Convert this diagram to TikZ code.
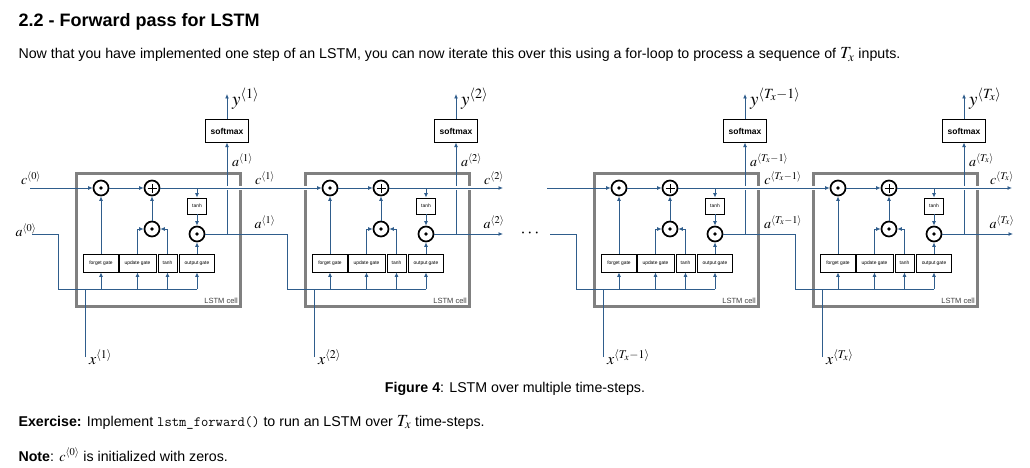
\documentclass[tikz,border=0pt]{standalone}
\usepackage{mathptmx}
\usepackage{fontspec}
\setmainfont{Liberation Sans}
\usepackage{xcolor}
\definecolor{lstmblue}{HTML}{2F5D8C}
\definecolor{cellgray}{HTML}{808080}
\usetikzlibrary{arrows.meta,positioning}

\begin{document}
\begin{tikzpicture}[x=1pt,y=-1pt,
  flow/.style={draw=lstmblue,line width=0.9pt},
  arr/.style={flow,-{Latex[length=4.5pt,width=4pt]}},
  cstate/.style={arr,preaction={draw=white,line width=3.5pt,-,shorten <=3pt,shorten >=3pt}},
  cellbox/.style={draw=cellgray,line width=3pt,minimum width=164pt,minimum height=133pt,inner sep=0pt},
  gate/.style={draw,line width=0.8pt,minimum height=18pt,inner sep=0pt,font=\fontsize{4.9}{5}\selectfont},
  op/.style={circle,draw,line width=1.7pt,minimum size=15pt,inner sep=0pt,fill=white},
  mult/.style={op,path picture={\fill[black] (path picture bounding box.center) circle (1.8pt);}},
  add/.style={op,path picture={\draw[black,line width=0.7pt] ([xshift=-4.5pt]path picture bounding box.center) -- ([xshift=4.5pt]path picture bounding box.center) ([yshift=-4.5pt]path picture bounding box.center) -- ([yshift=4.5pt]path picture bounding box.center);}},
  smax/.style={draw,line width=1pt,minimum width=43pt,minimum height=22pt,inner sep=0pt,font=\bfseries\fontsize{8.5}{10}\selectfont},
  var/.style={font=\fontsize{14}{14}\selectfont,inner sep=0pt},
  outvar/.style={font=\fontsize{19}{19}\selectfont,inner sep=0pt,anchor=west}]
\fill[white] (0,0) rectangle (1030,468);
\useasboundingbox (0,0) rectangle (1030,468);
% heading and intro
\node[anchor=base west,font=\bfseries\fontsize{18}{20}\selectfont] (title) at (15,27) {2.2 - Forward pass for LSTM};
\node[anchor=base west,font=\fontsize{14.2}{16}\selectfont] (intro) at (15,59) {Now that you have implemented one step of an LSTM, you can now iterate this over this using a for-loop to process a sequence of {\fontsize{17}{17}\selectfont$T_x$} inputs.};
% the four cells
\foreach \i/\ox/\t in {1/0/1,2/229/2,3/518/T_x-1,4/737/T_x}{
  \node[cellbox] (cell\i) at (\ox+158.5,239.5) {};
  \node[anchor=south east,inner sep=0pt,text=darkgray,font=\fontsize{7.5}{8}\selectfont] (tag\i) at (\ox+238,304) {LSTM cell};
  \node[mult] (fm\i) at (\ox+101,188) {};
  \node[add] (ad\i) at (\ox+152,188) {};
  \node[mult] (um\i) at (\ox+152,229) {};
  \node[mult] (om\i) at (\ox+197,234) {};
  \node[gate,minimum width=19pt,minimum height=16pt] (th\i) at (\ox+197,206) {tanh};
  \node[gate,minimum width=35pt] (fg\i) at (\ox+101,263) {forget gate};
  \node[gate,minimum width=37pt] (ug\i) at (\ox+137.5,263) {update gate};
  \node[gate,minimum width=19pt] (tg\i) at (\ox+167.5,263) {tanh};
  \node[gate,minimum width=35pt] (og\i) at (\ox+197,263) {output gate};
  \node[smax] (sm\i) at (\ox+227,131) {softmax};
  \coordinate (yt\i) at (\ox+227,94);
  \coordinate (bus\i) at (\ox+58,289);
  \coordinate (xin\i) at (\ox+85,357);
  \node[outvar] (yl\i) at (\ox+232,99) {$y^{\langle\t\rangle}$};
  \node[var,anchor=west] (ah\i) at (\ox+232,160) {$a^{\langle\t\rangle}$};
  \node[var] (co\i) at (\ox+265,178) {$c^{\langle\t\rangle}$};
  \node[var] (ao\i) at (\ox+265,222) {$a^{\langle\t\rangle}$};
  \node[var,anchor=west,font=\fontsize{16}{16}\selectfont] (xl\i) at (\ox+89,357) {$x^{\langle\t\rangle}$};
  \draw[arr] (fg\i) -- (fm\i);
  \draw[arr] (fm\i) -- (ad\i);
  \draw[arr] (um\i) -- (ad\i);
  \draw[arr] (ug\i.north) |- (um\i);
  \draw[arr] (tg\i.north) |- (um\i);
  \draw[arr] (og\i) -- (om\i);
  \draw[arr] (th\i) -- (om\i);
  \draw[flow] (bus\i) -- (bus\i -| og\i);
  \foreach \g in {fg,ug,tg,og}
    \draw[arr] (bus\i -| \g\i) -- (\g\i);
  \draw[flow] (xin\i) -- (xin\i |- bus\i);
  \draw[arr] (om\i -| sm\i) -- (sm\i);
  \draw[arr] (sm\i) -- (yt\i);
}
% inputs of the first cell
\coordinate (c0) at (30,188);
\coordinate (a0) at (32,234);
\node[var] (c0lab) at (31,178) {$c^{\langle 0\rangle}$};
\node[var] (a0lab) at (26,230) {$a^{\langle 0\rangle}$};
% ends around the gap
\coordinate (cend2) at (503,188);
\coordinate (aend2) at (503,234);
\coordinate (cbeg3) at (547,188);
\coordinate (abeg3) at (550,234);
\coordinate (cend4) at (1012,188);
\coordinate (aend4) at (1013,234);
\node[font=\fontsize{18}{18}\selectfont] (dots) at (530,234) {$\cdots$};
\draw[arr] (c0) -- (fm1);
\draw[flow] (a0) -| (bus1);
\draw[cstate] (ad1) -- (fm2);
\draw[flow] (om1) -| (bus2);
\draw[cstate] (ad2) -- (cend2);
\draw[arr] (om2) -- (aend2);
\draw[arr] (cbeg3) -- (fm3);
\draw[flow] (abeg3) -| (bus3);
\draw[cstate] (ad3) -- (fm4);
\draw[flow] (om3) -| (bus4);
\draw[cstate] (ad4) -- (cend4);
\draw[arr] (om4) -- (aend4);
% tanh taps on the cell state
\foreach \i in {1,...,4}
  \draw[arr] (th\i.north |- ad\i) -- (th\i);
% caption and notes
\node[anchor=base,font=\fontsize{14.2}{16}\selectfont] (caption) at (515,392) {\textbf{Figure 4}: LSTM over multiple time-steps.};
\node[anchor=base west,font=\fontsize{14.2}{16}\selectfont] (exercise) at (15,426) {\textbf{Exercise:} Implement \texttt{lstm\_forward()} to run an LSTM over {\fontsize{17}{17}\selectfont$T_x$} time-steps.};
\node[anchor=base west,font=\fontsize{14.2}{16}\selectfont] (note) at (15,461) {\textbf{Note}: $c^{\langle 0\rangle}$ is initialized with zeros.};
\end{tikzpicture}
\end{document}
